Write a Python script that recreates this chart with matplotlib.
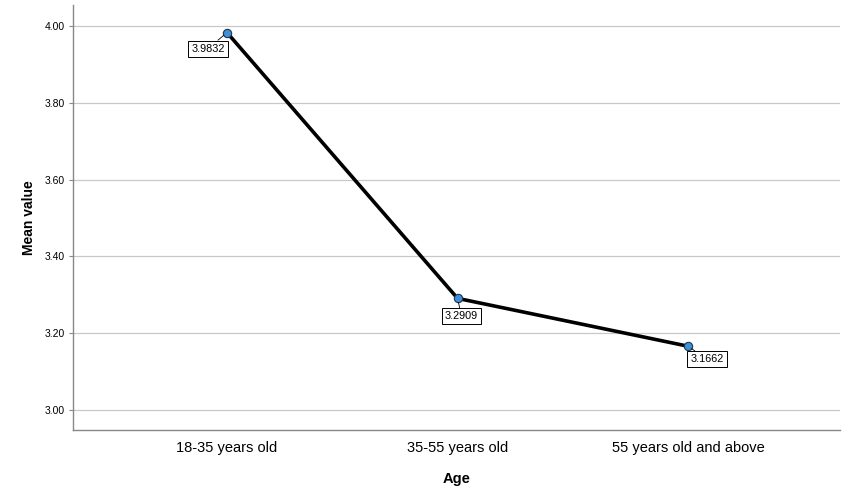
import matplotlib.pyplot as plt

plt.rcParams['font.family'] = ['Liberation Sans', 'DejaVu Sans']

ages = ["18-35 years old", "35-55 years old", "55 years old and above"]
means = [3.9832, 3.2909, 3.1662]
# label box offsets in pixels (dx, dy) relative to each point
offsets = [(-19, -16), (4, -18), (19, -13)]

fig = plt.figure(figsize=(8.51, 5.01), dpi=100)
ax = fig.add_axes([73/851, 71/501, 767/851, 425/501])

x = list(range(len(ages)))
ax.plot(x, means, color='black', lw=2.6, zorder=3)
ax.scatter(x, means, s=36, facecolor='#3d8fd6', edgecolor='#1f3550', linewidth=0.8, zorder=4)

for i in range(len(ages)):
    ax.annotate(f"{means[i]:.4f}", xy=(x[i], means[i]), xytext=offsets[i], textcoords='offset pixels',
                ha='center', va='center', fontsize=7.8,
                bbox=dict(boxstyle='square,pad=0.28', facecolor='white', edgecolor='black', lw=0.7),
                arrowprops=dict(arrowstyle='-', color='black', lw=0.6, shrinkA=0, shrinkB=3), zorder=5)

ax.set_xlim(-0.668, 2.659)
ax.set_ylim(2.948, 4.055)
ax.set_yticks([3.0, 3.2, 3.4, 3.6, 3.8, 4.0])
ax.set_yticklabels(["3.00", "3.20", "3.40", "3.60", "3.80", "4.00"], fontsize=7.5)
ax.set_xticks(x)
ax.set_xticklabels(ages, fontsize=10.5)
ax.tick_params(axis='x', length=0, pad=8)
ax.tick_params(axis='y', length=3, color='#888888', pad=3)
ax.grid(axis='y', color='#c8c8c8', lw=0.9)
ax.set_axisbelow(True)
for s in ['top', 'right']:
    ax.spines[s].set_visible(False)
for s in ['left', 'bottom']:
    ax.spines[s].set_color('#888888')
    ax.spines[s].set_linewidth(1.0)

ax.set_xlabel("Age", fontsize=10.5, fontweight='bold', labelpad=12)
ax.set_ylabel("Mean value", fontsize=10, fontweight='bold', labelpad=6)

fig.savefig("out.png", dpi=100)
